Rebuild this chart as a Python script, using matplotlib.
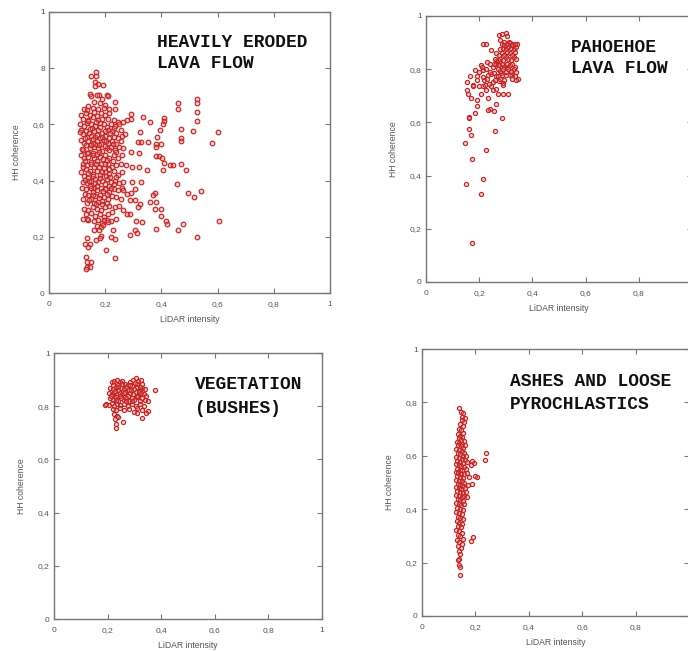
import numpy as np
import matplotlib
matplotlib.use("Agg")
import matplotlib.pyplot as plt

# points (x = LiDAR intensity, y = HH coherence)
eroded_pts = [
    # top tail
    (0.169, 0.786), (0.148, 0.771), (0.169, 0.772), (0.163, 0.751), (0.175, 0.745),
    (0.192, 0.741), (0.208, 0.706), (0.163, 0.735), (0.145, 0.709), (0.178, 0.706),
    (0.234, 0.680), (0.234, 0.656),
    # dense core
    (0.15, 0.70), (0.17, 0.705), (0.19, 0.69), (0.21, 0.70), (0.16, 0.68), (0.18, 0.675),
    (0.20, 0.67), (0.14, 0.665), (0.125, 0.655), (0.135, 0.65), (0.155, 0.66), (0.175, 0.655),
    (0.195, 0.66), (0.215, 0.655), (0.115, 0.635), (0.13, 0.64), (0.145, 0.635), (0.16, 0.645),
    (0.17, 0.63), (0.185, 0.64), (0.20, 0.635), (0.215, 0.64), (0.12, 0.62), (0.14, 0.615),
    (0.155, 0.625), (0.175, 0.615), (0.19, 0.62), (0.21, 0.62), (0.23, 0.615), (0.245, 0.61),
    (0.11, 0.60), (0.125, 0.595), (0.135, 0.605), (0.15, 0.60), (0.165, 0.595), (0.18, 0.605),
    (0.195, 0.60), (0.205, 0.59), (0.22, 0.60), (0.235, 0.595), (0.25, 0.60), (0.265, 0.61),
    (0.115, 0.58), (0.13, 0.575), (0.145, 0.585), (0.16, 0.575), (0.175, 0.58), (0.19, 0.57),
    (0.21, 0.58), (0.225, 0.575), (0.24, 0.57), (0.255, 0.58), (0.12, 0.565), (0.15, 0.56),
    (0.135, 0.555), (0.165, 0.555), (0.18, 0.55), (0.20, 0.56), (0.215, 0.55), (0.23, 0.555),
    (0.245, 0.55), (0.26, 0.56), (0.27, 0.565), (0.115, 0.545), (0.125, 0.535), (0.14, 0.54),
    (0.155, 0.535), (0.17, 0.54), (0.185, 0.53), (0.195, 0.545), (0.21, 0.535), (0.225, 0.54),
    (0.24, 0.53), (0.255, 0.54), (0.13, 0.525), (0.16, 0.52), (0.12, 0.51), (0.145, 0.515),
    (0.175, 0.515), (0.19, 0.505), (0.205, 0.515), (0.22, 0.52), (0.235, 0.51), (0.25, 0.52),
    (0.265, 0.515), (0.135, 0.50), (0.155, 0.50), (0.17, 0.495), (0.115, 0.49), (0.125, 0.48),
    (0.14, 0.485), (0.16, 0.48), (0.18, 0.485), (0.20, 0.49), (0.215, 0.48), (0.23, 0.49),
    (0.245, 0.48), (0.26, 0.49), (0.15, 0.465), (0.17, 0.47), (0.12, 0.46), (0.135, 0.455),
    (0.16, 0.45), (0.185, 0.46), (0.195, 0.445), (0.21, 0.46), (0.225, 0.45), (0.24, 0.455),
    (0.255, 0.46), (0.275, 0.455), (0.13, 0.44), (0.145, 0.435), (0.115, 0.43), (0.155, 0.425),
    (0.17, 0.435), (0.18, 0.42), (0.20, 0.43), (0.215, 0.425), (0.23, 0.435), (0.245, 0.42),
    (0.26, 0.43), (0.125, 0.415), (0.14, 0.41), (0.165, 0.405), (0.12, 0.395), (0.135, 0.39),
    (0.15, 0.40), (0.175, 0.395), (0.19, 0.40), (0.205, 0.405), (0.22, 0.395), (0.235, 0.40),
    (0.25, 0.39), (0.265, 0.395), (0.145, 0.38), (0.16, 0.375), (0.13, 0.37), (0.155, 0.36),
    (0.17, 0.365), (0.185, 0.375), (0.20, 0.37), (0.215, 0.36), (0.23, 0.37), (0.245, 0.365),
    (0.26, 0.375), (0.14, 0.35), (0.165, 0.345), (0.18, 0.35), (0.12, 0.335), (0.15, 0.335),
    (0.195, 0.34), (0.21, 0.335), (0.225, 0.345), (0.24, 0.34), (0.255, 0.335), (0.135, 0.32),
    (0.16, 0.32), (0.175, 0.325), (0.19, 0.315), (0.205, 0.32), (0.125, 0.30), (0.14, 0.295),
    (0.155, 0.305), (0.17, 0.30), (0.185, 0.295), (0.20, 0.305), (0.215, 0.31), (0.235, 0.305),
    (0.25, 0.31), (0.13, 0.28), (0.15, 0.285), (0.165, 0.275), (0.18, 0.28), (0.195, 0.27),
    (0.21, 0.28), (0.225, 0.29), (0.14, 0.26), (0.16, 0.255), (0.175, 0.26), (0.19, 0.25),
    (0.205, 0.26), (0.22, 0.255), (0.17, 0.24), (0.185, 0.235),
    (0.138, 0.612), (0.152, 0.588), (0.168, 0.608), (0.182, 0.592), (0.198, 0.578),
    (0.142, 0.568), (0.158, 0.548), (0.172, 0.562), (0.188, 0.556), (0.202, 0.542),
    (0.128, 0.552), (0.148, 0.528), (0.162, 0.532), (0.178, 0.528), (0.198, 0.522),
    (0.212, 0.508), (0.138, 0.498), (0.158, 0.492), (0.178, 0.502), (0.192, 0.478),
    (0.208, 0.472), (0.128, 0.468), (0.148, 0.458), (0.168, 0.458), (0.178, 0.448),
    (0.198, 0.458), (0.212, 0.442), (0.138, 0.428), (0.158, 0.418), (0.188, 0.432),
    (0.202, 0.418), (0.218, 0.412), (0.128, 0.402), (0.142, 0.398), (0.162, 0.392),
    (0.182, 0.408), (0.198, 0.388), (0.212, 0.382), (0.148, 0.372), (0.172, 0.382),
    (0.192, 0.362), (0.208, 0.352), (0.128, 0.352), (0.158, 0.348), (0.178, 0.338),
    (0.142, 0.332), (0.168, 0.318), (0.188, 0.328), (0.222, 0.372), (0.232, 0.388),
    (0.238, 0.412), (0.228, 0.468), (0.238, 0.502), (0.228, 0.532), (0.218, 0.568),
    (0.232, 0.588), (0.118, 0.512), (0.112, 0.572), (0.122, 0.448), (0.118, 0.372),
    # bottom tail
    (0.135, 0.197), (0.145, 0.176), (0.127, 0.173), (0.140, 0.165), (0.131, 0.128),
    (0.134, 0.110), (0.135, 0.093), (0.145, 0.093), (0.130, 0.087), (0.150, 0.110),
    (0.234, 0.126), (0.204, 0.152), (0.186, 0.202), (0.180, 0.195), (0.166, 0.187),
    (0.160, 0.223), (0.178, 0.223), (0.228, 0.223), (0.234, 0.193), (0.222, 0.199),
    (0.238, 0.265), (0.210, 0.253), (0.196, 0.260), (0.192, 0.241), (0.135, 0.265),
    (0.121, 0.265),
    # sparse right part
    (0.460, 0.676), (0.460, 0.656), (0.527, 0.689), (0.527, 0.677), (0.527, 0.644),
    (0.527, 0.611), (0.600, 0.573), (0.580, 0.534), (0.513, 0.575), (0.471, 0.585),
    (0.470, 0.552), (0.470, 0.541), (0.409, 0.624), (0.409, 0.612), (0.406, 0.600),
    (0.361, 0.608), (0.333, 0.626), (0.293, 0.638), (0.291, 0.618), (0.276, 0.614),
    (0.394, 0.579), (0.385, 0.555), (0.382, 0.531), (0.397, 0.531), (0.354, 0.537),
    (0.323, 0.573), (0.329, 0.537), (0.317, 0.537), (0.382, 0.520), (0.380, 0.488),
    (0.392, 0.486), (0.401, 0.482), (0.410, 0.463), (0.430, 0.454), (0.440, 0.456),
    (0.470, 0.458), (0.489, 0.437), (0.404, 0.437), (0.349, 0.437), (0.321, 0.448),
    (0.296, 0.448), (0.291, 0.502), (0.319, 0.500), (0.297, 0.395), (0.329, 0.395),
    (0.457, 0.389), (0.495, 0.356), (0.540, 0.363), (0.517, 0.342), (0.379, 0.357),
    (0.371, 0.350), (0.359, 0.324), (0.382, 0.324), (0.397, 0.300), (0.378, 0.300),
    (0.398, 0.273), (0.418, 0.256), (0.421, 0.244), (0.477, 0.247), (0.459, 0.225),
    (0.382, 0.227), (0.525, 0.199), (0.605, 0.255), (0.311, 0.255), (0.331, 0.253),
    (0.307, 0.223), (0.313, 0.214), (0.287, 0.205), (0.306, 0.369), (0.293, 0.356),
    (0.287, 0.332), (0.305, 0.330), (0.323, 0.318), (0.315, 0.306), (0.276, 0.354),
    (0.264, 0.368), (0.278, 0.282), (0.287, 0.282), (0.264, 0.297),
]

pahoehoe_pts = [
    (0.1725, 0.145), (0.150, 0.370), (0.146, 0.523), (0.206, 0.332), (0.2125, 0.387),
    (0.225, 0.496), (0.1725, 0.462), (0.171, 0.554), (0.1625, 0.577), (0.260, 0.568),
    (0.284, 0.615), (0.160, 0.620), (0.1625, 0.617), (0.184, 0.636), (0.190, 0.660),
    (0.191, 0.683), (0.169, 0.693), (0.159, 0.706), (0.1525, 0.723), (0.156, 0.752),
    (0.165, 0.773), (0.184, 0.796), (0.206, 0.814), (0.216, 0.796), (0.2275, 0.827),
    (0.250, 0.808), (0.200, 0.736), (0.2125, 0.736), (0.225, 0.723), (0.234, 0.690),
    (0.2525, 0.721), (0.2625, 0.727), (0.269, 0.705), (0.240, 0.652), (0.256, 0.642),
    (0.234, 0.646), (0.2625, 0.671), (0.219, 0.758), (0.234, 0.777), (0.250, 0.752),
    (0.244, 0.781), (0.2625, 0.773), (0.275, 0.755), (0.291, 0.748), (0.291, 0.708),
    (0.310, 0.708), (0.175, 0.740), (0.191, 0.773), (0.216, 0.894), (0.225, 0.894),
    (0.246, 0.874), (0.265, 0.830), (0.275, 0.930), (0.284, 0.934), (0.300, 0.937),
    (0.306, 0.924), (0.278, 0.909), (0.294, 0.902), (0.3125, 0.902), (0.325, 0.896),
    (0.341, 0.894), (0.344, 0.765), (0.3375, 0.758), (0.325, 0.777), (0.294, 0.758),
    (0.300, 0.777), (0.281, 0.786), (0.271, 0.815), (0.288, 0.821), (0.306, 0.808),
    (0.319, 0.790),
    (0.265, 0.82), (0.275, 0.815), (0.285, 0.82), (0.295, 0.81), (0.305, 0.82), (0.315, 0.815),
    (0.325, 0.82), (0.335, 0.81), (0.27, 0.835), (0.28, 0.84), (0.29, 0.835), (0.30, 0.845),
    (0.31, 0.84), (0.32, 0.835), (0.33, 0.845), (0.34, 0.84), (0.275, 0.855), (0.285, 0.86),
    (0.295, 0.855), (0.305, 0.865), (0.315, 0.86), (0.325, 0.855), (0.335, 0.865), (0.28, 0.875),
    (0.29, 0.88), (0.30, 0.875), (0.31, 0.885), (0.32, 0.88), (0.33, 0.875), (0.34, 0.885),
    (0.285, 0.895), (0.295, 0.89), (0.305, 0.895), (0.315, 0.90), (0.325, 0.89), (0.335, 0.895),
    (0.27, 0.80), (0.28, 0.795), (0.29, 0.80), (0.30, 0.79), (0.31, 0.80), (0.32, 0.795),
    (0.33, 0.80), (0.34, 0.79), (0.285, 0.78), (0.315, 0.78), (0.325, 0.765), (0.335, 0.775),
    (0.26, 0.84), (0.255, 0.82), (0.262, 0.86),
    (0.215, 0.77), (0.23, 0.765), (0.24, 0.79), (0.255, 0.785), (0.27, 0.775), (0.26, 0.76),
    (0.28, 0.765), (0.29, 0.74), (0.245, 0.735), (0.235, 0.745), (0.22, 0.74), (0.19, 0.76),
    (0.20, 0.79), (0.21, 0.81), (0.225, 0.80), (0.24, 0.82), (0.178, 0.735), (0.205, 0.705),
]

vegetation_pts = [
    (0.215, 0.89), (0.225, 0.895), (0.235, 0.90), (0.245, 0.89), (0.255, 0.895), (0.265, 0.885),
    (0.285, 0.89), (0.295, 0.90), (0.305, 0.905), (0.315, 0.895), (0.325, 0.90), (0.33, 0.885),
    (0.31, 0.885), (0.275, 0.88), (0.24, 0.88), (0.22, 0.878),
    (0.21, 0.87), (0.22, 0.865), (0.23, 0.872), (0.24, 0.862), (0.25, 0.87), (0.26, 0.865),
    (0.27, 0.872), (0.28, 0.862), (0.29, 0.875), (0.30, 0.865), (0.31, 0.872), (0.32, 0.86),
    (0.33, 0.87), (0.34, 0.865), (0.378, 0.862),
    (0.205, 0.85), (0.215, 0.845), (0.225, 0.852), (0.235, 0.842), (0.245, 0.85), (0.255, 0.845),
    (0.265, 0.855), (0.275, 0.84), (0.285, 0.85), (0.295, 0.845), (0.305, 0.852), (0.315, 0.84),
    (0.325, 0.85), (0.335, 0.845), (0.345, 0.84),
    (0.21, 0.83), (0.22, 0.825), (0.23, 0.835), (0.24, 0.82), (0.25, 0.83), (0.26, 0.825),
    (0.27, 0.832), (0.28, 0.82), (0.29, 0.83), (0.30, 0.825), (0.31, 0.835), (0.32, 0.82),
    (0.33, 0.83), (0.34, 0.825), (0.35, 0.818),
    (0.195, 0.81), (0.205, 0.805), (0.215, 0.812), (0.225, 0.80), (0.235, 0.81), (0.245, 0.805),
    (0.26, 0.81), (0.275, 0.80), (0.29, 0.81), (0.305, 0.80), (0.32, 0.81), (0.335, 0.80),
    (0.19, 0.805),
    (0.22, 0.79), (0.23, 0.785), (0.245, 0.792), (0.26, 0.785), (0.28, 0.79), (0.30, 0.78),
    (0.31, 0.792), (0.33, 0.785), (0.352, 0.782), (0.345, 0.775),
    (0.225, 0.77), (0.235, 0.765), (0.227, 0.753), (0.258, 0.74), (0.231, 0.734), (0.233, 0.718),
    (0.327, 0.757), (0.308, 0.775), (0.24, 0.76),
    (0.228, 0.858), (0.248, 0.838), (0.268, 0.818), (0.288, 0.862), (0.308, 0.838),
    (0.252, 0.882), (0.232, 0.822), (0.292, 0.818), (0.318, 0.852), (0.212, 0.838),
    (0.238, 0.872), (0.262, 0.848), (0.282, 0.878), (0.302, 0.888), (0.322, 0.872),
]

ashes_pts = [
    (0.14, 0.78), (0.145, 0.765), (0.148, 0.745), (0.15, 0.735), (0.143, 0.72), (0.152, 0.71),
    (0.138, 0.70), (0.147, 0.695), (0.155, 0.685), (0.133, 0.68), (0.142, 0.675), (0.15, 0.67),
    (0.137, 0.665), (0.145, 0.66), (0.158, 0.655), (0.13, 0.65), (0.14, 0.648), (0.15, 0.645),
    (0.135, 0.64), (0.145, 0.635), (0.155, 0.63), (0.162, 0.64), (0.128, 0.625), (0.138, 0.62),
    (0.148, 0.618), (0.158, 0.612), (0.133, 0.61), (0.143, 0.605), (0.153, 0.60), (0.165, 0.598),
    (0.127, 0.595), (0.138, 0.59), (0.148, 0.588), (0.16, 0.585), (0.132, 0.58), (0.142, 0.575),
    (0.152, 0.572), (0.17, 0.578), (0.126, 0.568), (0.137, 0.565), (0.147, 0.56), (0.157, 0.558),
    (0.131, 0.552), (0.141, 0.548), (0.151, 0.545), (0.163, 0.55), (0.127, 0.54), (0.136, 0.535),
    (0.146, 0.532), (0.156, 0.53), (0.168, 0.535), (0.132, 0.525), (0.142, 0.52), (0.152, 0.518),
    (0.175, 0.522), (0.128, 0.51), (0.138, 0.507), (0.148, 0.505), (0.158, 0.50), (0.133, 0.495),
    (0.143, 0.49), (0.153, 0.487), (0.127, 0.482), (0.137, 0.478), (0.147, 0.475), (0.16, 0.478),
    (0.132, 0.468), (0.142, 0.463), (0.152, 0.46), (0.128, 0.452), (0.138, 0.448), (0.148, 0.445),
    (0.158, 0.45), (0.133, 0.438), (0.143, 0.433), (0.153, 0.43), (0.127, 0.422), (0.137, 0.418),
    (0.147, 0.415), (0.157, 0.42), (0.132, 0.405), (0.142, 0.40), (0.152, 0.398), (0.128, 0.39),
    (0.138, 0.385), (0.148, 0.382), (0.133, 0.372), (0.143, 0.368), (0.155, 0.365), (0.13, 0.355),
    (0.14, 0.35), (0.15, 0.345), (0.135, 0.338), (0.145, 0.332), (0.128, 0.322), (0.14, 0.318),
    (0.15, 0.312), (0.133, 0.305), (0.143, 0.298), (0.153, 0.29), (0.13, 0.285), (0.14, 0.278),
    (0.148, 0.27), (0.135, 0.262), (0.145, 0.255), (0.138, 0.245), (0.143, 0.232), (0.137, 0.215),
    (0.135, 0.21), (0.14, 0.19), (0.143, 0.185), (0.141, 0.155),
    (0.241, 0.611), (0.235, 0.584), (0.206, 0.521), (0.198, 0.525), (0.1875, 0.496), (0.194, 0.574),
    (0.188, 0.58), (0.185, 0.565), (0.191, 0.296), (0.185, 0.28), (0.165, 0.466), (0.168, 0.445),
    (0.172, 0.49), (0.16, 0.74), (0.156, 0.728), (0.153, 0.76),
]

titles = [
    ["HEAVILY ERODED", "LAVA FLOW"],
    ["PAHOEHOE", "LAVA FLOW"],
    ["VEGETATION", "(BUSHES)"],
    ["ASHES AND LOOSE", "PYROCHLASTICS"],
]
tick_vals = [0, 0.2, 0.4, 0.6, 0.8, 1]
tick_text = ["0", "0,2", "0,4", "0,6", "0,8", "1"]
ytick_text_first = ["0", "0,2", "0,4", "0,6", "8", "1"]  # the first panel really shows "8"
xtick_text_cut = ["0", "0,2", "0,4", "0,6", "0,8", ""]  # "1" falls outside the crop

W, H = 688, 651
# axes boxes in pixels: left, top, right, bottom (right panels run past the crop)
boxes = [(49, 12, 330, 293), (426, 16, 692, 282), (54, 353, 322, 619), (422, 349, 689, 616)]
title_pos = [(0.385, 0.891, 0.817), (0.544, 0.881, 0.803),
             (0.526, 0.880, 0.792), (0.328, 0.878, 0.794)]
marker_size = [11, 9, 9, 9]

red = "#c62626"
fig = plt.figure(figsize=(W / 100, H / 100), dpi=100)

for i, pts in enumerate([eroded_pts, pahoehoe_pts, vegetation_pts, ashes_pts]):
    l, t, r, b = boxes[i]
    ax = fig.add_axes([l / W, 1 - b / H, (r - l) / W, (b - t) / H])
    arr = np.array(pts)
    ax.scatter(arr[:, 0], arr[:, 1], s=marker_size[i], facecolors=(0.88, 0.45, 0.45, 0.35),
               edgecolors=red, linewidths=0.85, zorder=3)
    ax.set_xlim(0, 1)
    ax.set_ylim(0, 1)
    ax.set_xticks(tick_vals)
    ax.set_xticklabels(xtick_text_cut if i in (1, 3) else tick_text)
    ax.set_yticks(tick_vals)
    ax.set_yticklabels(ytick_text_first if i == 0 else tick_text)
    ax.tick_params(direction="in", top=True, right=True, length=3.5, width=0.8,
                   color="#777777", labelsize=6, labelcolor="#555555")
    ax.tick_params(axis="x", pad=6)
    ax.tick_params(axis="y", pad=3)
    for sp in ax.spines.values():
        sp.set_color("#777777")
        sp.set_linewidth(1.0)
    ax.set_xlabel("LiDAR intensity", fontsize=6.2, color="#555555",
                  family="Liberation Sans", labelpad=5)
    ax.set_ylabel("HH coherence", fontsize=6.2, color="#555555",
                  family="Liberation Sans", labelpad=9)
    for lab in ax.get_xticklabels() + ax.get_yticklabels():
        lab.set_family("Liberation Sans")
    tx, ty1, ty2 = title_pos[i]
    for line, ty in zip(titles[i], [ty1, ty2]):
        ax.text(tx, ty, line, transform=ax.transAxes, ha="left", va="center",
                fontsize=12.9, family="Liberation Mono", weight="bold", color="#111111")

fig.savefig("out.png", dpi=100)
